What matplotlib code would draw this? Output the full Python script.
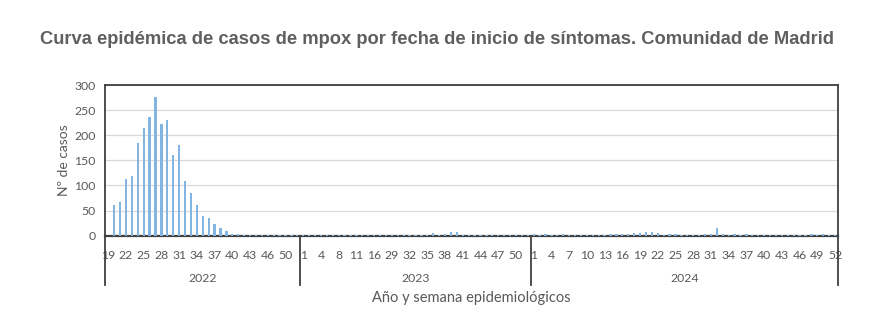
import matplotlib
matplotlib.use("Agg")
import matplotlib.pyplot as plt
import matplotlib.transforms as mtransforms

# ---- data ----
years = ["2022", "2023", "2024"]
weeks_2022 = [19, 20, 21, 22, 23, 24, 25, 26, 27, 28, 29, 30, 31, 32, 33, 34, 35, 36, 37,
              38, 39, 40, 41, 42, 43, 44, 45, 46, 47, 48, 50, 51, 52]
cases_2022 = [0, 62, 67, 112, 119, 184, 215, 237, 277, 223, 231, 160, 181, 109, 85, 61, 39, 36, 24,
              15, 9, 4, 3, 1, 1, 1, 2, 1, 1, 1, 1, 1, 1]
weeks_2023 = [1, 2, 3, 4, 5, 6, 8, 9, 10, 11, 12, 13, 16, 17, 18, 29, 30, 31, 32, 33, 34, 35, 36,
              37, 38, 39, 40, 41, 42, 43, 44, 45, 46, 47, 48, 49, 50, 51, 52]
cases_2023 = [1, 1, 1, 1, 1, 1, 1, 1, 1, 1, 1, 1, 1, 1, 1, 1, 1, 1, 1, 2, 2, 1, 5,
              2, 3, 7, 7, 1, 2, 2, 1, 2, 2, 2, 1, 1, 1, 1, 2]
weeks_2024 = list(range(1, 53))
cases_2024 = [3, 2, 3, 2, 2, 3, 2, 2, 1, 1, 2, 2, 2, 3, 3, 3, 4, 5, 6, 8, 7, 6, 2, 3, 3, 1,
              1, 2, 2, 3, 3, 15, 3, 2, 3, 2, 3, 1, 1, 2, 2, 2, 2, 1, 1, 2, 2, 3, 2, 3, 1, 2]
y_ticks = [0, 50, 100, 150, 200, 250, 300]

all_weeks = weeks_2022 + weeks_2023 + weeks_2024
all_cases = cases_2022 + cases_2023 + cases_2024
group_sizes = [len(weeks_2022), len(weeks_2023), len(weeks_2024)]
n = len(all_weeks)
idx = list(range(n))

gray = "#595959"
W, H = 891, 336
fig = plt.figure(figsize=(W / 100, H / 100), dpi=100)
left, right, top, bottom = 105.3, 838, 85, 235.7
ax = fig.add_axes([left / W, 1 - bottom / H, (right - left) / W, (bottom - top) / H])

ax.bar(idx, all_cases, width=0.38, color="#84B5E0", zorder=3)
ax.set_xlim(-0.5, n - 0.5)
ax.set_ylim(0, 300)
ax.set_yticks(y_ticks)
ax.set_yticklabels([str(v) for v in y_ticks], fontsize=8.8, color=gray, family="Lato")
ax.grid(axis="y", color="#D9D9D9", linewidth=0.9, zorder=0)
ax.tick_params(axis="y", length=0, pad=7)

tick_pos = idx[::3]
ax.set_xticks(tick_pos)
ax.set_xticklabels([str(all_weeks[i]) for i in tick_pos], fontsize=8.8, color=gray, family="Lato")
ax.tick_params(axis="x", length=0, pad=10)

for s in ax.spines.values():
    s.set_color("#404040")
    s.set_linewidth(1.3)
ax.spines["bottom"].set_linewidth(1.6)

ax.set_ylabel("Nº de casos", fontsize=10, color=gray, family="Lato", labelpad=3)

# category separators and year labels
trans = mtransforms.blended_transform_factory(ax.transData, ax.transAxes)
axh = bottom - top
low = -(285 - bottom) / axh
start = 0
bounds = [-0.5]
for g in group_sizes:
    start += g
    bounds.append(start - 0.5)
for b in bounds:
    ax.plot([b, b], [0, low], transform=trans, color="#404040", lw=1.3, clip_on=False, zorder=5)
for i, yr in enumerate(years):
    cx = (bounds[i] + bounds[i + 1]) / 2
    ax.text(cx, -(278 - bottom) / axh, yr, transform=trans, ha="center", va="center",
            fontsize=8.8, color=gray, family="Lato")

ax.text(0.5, -(298 - bottom) / axh, "Año y semana epidemiológicos", transform=ax.transAxes,
        ha="center", va="center", fontsize=10.5, color=gray, family="Lato")

fig.text(437.5 / W, 1 - 40 / H,
         "Curva epidémica de casos de mpox por fecha de inicio de síntomas. Comunidad de Madrid",
         ha="center", va="center", fontsize=13.2, fontweight="bold", color="#5f5f5f",
         family="Liberation Sans")

fig.savefig("out.png", dpi=100)
